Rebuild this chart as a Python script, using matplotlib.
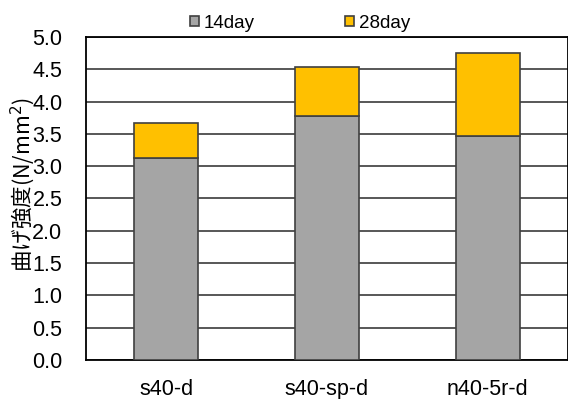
import matplotlib
matplotlib.use("Agg")
import matplotlib.pyplot as plt
import numpy as np

categories = ["s40-d", "s40-sp-d", "n40-5r-d"]
strength_14day = [3.12, 3.78, 3.47]
strength_28day = [3.67, 4.54, 4.76]
series_names = ["14day", "28day"]
y_ticks = [0.0, 0.5, 1.0, 1.5, 2.0, 2.5, 3.0, 3.5, 4.0, 4.5, 5.0]

plt.rcParams['font.family'] = ['Liberation Sans', 'Noto Sans CJK JP', 'DejaVu Sans']

fig = plt.figure(figsize=(5.68, 3.99), dpi=100)
ax = fig.add_axes([86/568, 39/399, 482/568, 323/399])

x = np.arange(len(categories))
w = 0.4
edge = "#404040"
# 28-day increase stacked on top of 14-day strength
gain = [b - a for a, b in zip(strength_14day, strength_28day)]
ax.bar(x, strength_14day, width=w, color="#A5A5A5", edgecolor=edge, linewidth=1.2,
       label=series_names[0], zorder=3)
ax.bar(x, gain, bottom=strength_14day, width=w, color="#FFC000", edgecolor=edge,
       linewidth=1.2, label=series_names[1], zorder=3)

ax.set_xlim(-0.5, len(categories) - 0.5)
ax.set_ylim(0, 5.0)
ax.set_yticks(y_ticks)
ax.set_yticklabels([f"{v:.1f}" for v in y_ticks], fontsize=15.5)
ax.set_xticks(x)
ax.set_xticklabels(categories, fontsize=15.5)
ax.tick_params(axis='both', length=0)
ax.tick_params(axis='y', pad=17)
ax.tick_params(axis='x', pad=14)
ax.yaxis.grid(True, color="#4a4a4a", linewidth=1.3, zorder=0)
ax.set_axisbelow(True)
for s in ax.spines.values():
    s.set_color("black")
    s.set_linewidth(1.3)

fig.text(23/568, 1 - 185/399, "曲げ強度(N/mm$^2$)", rotation=90, fontsize=15.5,
         ha="center", va="center", zorder=5,
         family=['Noto Sans CJK JP', 'Liberation Sans', 'DejaVu Sans'])

leg = fig.legend(loc="center left", bbox_to_anchor=(190/568, 1 - 23/399),
                 bbox_transform=fig.transFigure, ncol=2, frameon=False,
                 fontsize=13.5, handlelength=0.5, handleheight=0.5, handletextpad=0.25,
                 columnspacing=4.8, borderpad=0, borderaxespad=0)

fig.savefig("out.png", dpi=100)
